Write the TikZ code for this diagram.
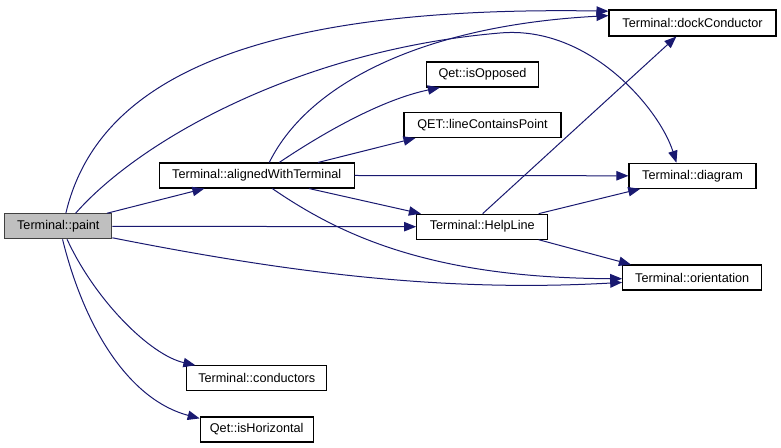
\documentclass[tikz,border=0pt]{standalone}
\usepackage{fontspec}
\setmainfont{Liberation Sans}
\usepackage{tikz}
\usepackage{xcolor}
\usetikzlibrary{arrows.meta}
\definecolor{edgeblue}{HTML}{191970}
\definecolor{rootgray}{HTML}{BFBFBF}
\definecolor{rootdraw}{HTML}{404040}

\begin{document}
\begin{tikzpicture}[x=0.75pt, y=-0.75pt,
  func/.style={rectangle, draw=black, fill=white, line width=0.8pt, inner sep=0pt, minimum height=18.75pt, font=\fontsize{9.5pt}{11pt}\selectfont},
  root/.style={func, fill=rootgray, draw=rootdraw},
  call/.style={draw=edgeblue, line width=0.75pt, -{Triangle[length=9pt,width=7pt]}}]
\useasboundingbox (0,0) rectangle (781,448);

\node[root, minimum width=80.25pt] (paint) at (58.3,226.3) {Terminal::paint};
\node[func, minimum width=146.25pt] (aligned) at (256.7,175.5) {Terminal::alignedWithTerminal};
\node[func, minimum width=105pt] (conductors) at (256.7,378.3) {Terminal::conductors};
\node[func, minimum width=84.75pt] (isHorizontal) at (256.7,429.5) {Qet::isHorizontal};
\node[func, minimum width=125.25pt, minimum height=19.5pt] (dock) at (692.5,23) {Terminal::dockConductor};
\node[func, minimum width=84pt] (isOpposed) at (482.5,74.5) {Qet::isOpposed};
\node[func, minimum width=117.75pt] (lcp) at (482.5,125) {QET::lineContainsPoint};
\node[func, minimum width=98.25pt] (HelpLine) at (482.2,226.7) {Terminal::HelpLine};
\node[func, minimum width=95.25pt] (diagram) at (692.5,175.8) {Terminal::diagram};
\node[func, minimum width=104.25pt] (orientation) at (692.2,277.5) {Terminal::orientation};

\draw[call] (paint.60) .. controls (95,90) and (230,5) .. (dock.172);
\draw[call] (paint.37) .. controls (140,140) and (300,50) .. (500,33) .. controls (590,25) and (660,110) .. (diagram.141);
\draw[call] (paint.15) -- (aligned.194);
\draw[call] (paint.east) -- (HelpLine.west);
\draw[call] (paint.-12) .. controls (300,275) and (450,292) .. (orientation.184);
\draw[call] (paint.-56) .. controls (95,300) and (150,355) .. (conductors.168);
\draw[call] (paint.-72) .. controls (85,330) and (130,400) .. (isHorizontal.169);

\draw[call] (aligned.46) .. controls (310,80) and (430,25) .. (dock.175);
\draw[call] (aligned.30) .. controls (320,135) and (380,100) .. (isOpposed.197);
\draw[call] (aligned.12) -- (lcp.191);
\draw[call] (aligned.east) -- (diagram.west);
\draw[call] (aligned.-14) -- (HelpLine.168);
\draw[call] (aligned.-40) .. controls (340,235) and (430,278) .. (orientation.181);

\draw[call] (HelpLine.88) -- (dock.220);
\draw[call] (HelpLine.13) -- (diagram.194);
\draw[call] (HelpLine.-13) -- (orientation.168);
\end{tikzpicture}
\end{document}
